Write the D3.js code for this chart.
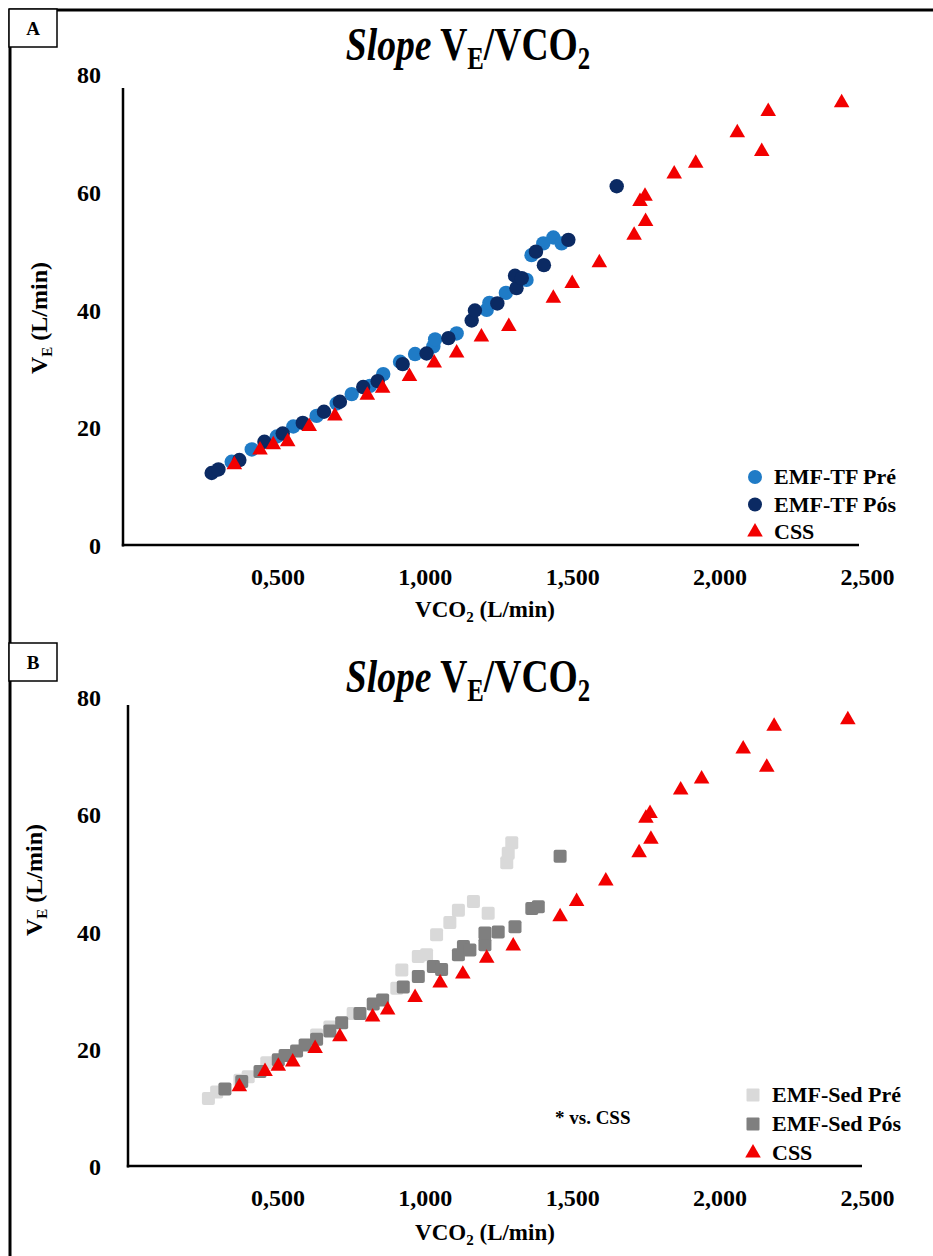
<!DOCTYPE html>
<html>
<head>
<meta charset="utf-8">
<script src="https://cdn.jsdelivr.net/npm/d3@7"></script>
<style>
  html, body { margin: 0; padding: 0; background: #fff; }
  svg { display: block; }
</style>
</head>
<body>
<svg id="chart" width="933" height="1256"></svg>
<script>
// ---------------- DATA ----------------
const titleMain = "Slope";
const xTicks = [0.5, 1.0, 1.5, 2.0, 2.5];
const yTicks = [0, 20, 40, 60, 80];
const panelLabels = ["A", "B"];
const legendA = ["EMF-TF Pré", "EMF-TF Pós", "CSS"];
const legendB = ["EMF-Sed Pré", "EMF-Sed Pós", "CSS"];
const annotationB = "vs. CSS";

// Panel A  [VCO2 (L/min), VE (L/min)]
const aPre = [[0.345,14.3],[0.413,16.4],[0.498,18.6],[0.554,20.3],[0.633,22.1],[0.701,24.2],[0.752,25.8],[0.814,27.2],[0.859,29.2],[0.916,31.3],[0.967,32.6],[1.029,33.9],[1.035,35.1],[1.108,36.1],[1.210,40.1],[1.219,41.3],[1.275,43.0],[1.345,45.2],[1.362,49.4],[1.402,51.4],[1.436,52.4],[1.464,51.4]];
const aPos = [[0.277,12.4],[0.300,13.0],[0.371,14.6],[0.456,17.7],[0.518,19.1],[0.586,20.9],[0.658,22.8],[0.712,24.5],[0.791,27.0],[0.840,28.0],[0.925,30.9],[1.006,32.7],[1.080,35.3],[1.159,38.3],[1.170,40.0],[1.246,41.2],[1.311,43.8],[1.306,45.9],[1.329,45.5],[1.377,50.0],[1.404,47.7],[1.487,52.0],[1.651,61.1]];
const aCss = [[0.354,13.8],[0.441,16.3],[0.486,17.2],[0.535,17.7],[0.608,20.3],[0.695,22.1],[0.805,25.6],[0.857,26.8],[0.948,28.8],[1.032,31.1],[1.108,32.8],[1.192,35.5],[1.285,37.3],[1.436,42.1],[1.500,44.6],[1.592,48.1],[1.710,52.8],[1.749,55.1],[1.730,58.5],[1.747,59.4],[1.846,63.2],[1.919,65.0],[2.060,70.2],[2.143,67.0],[2.165,73.8],[2.414,75.3]];

// Panel B
const bPre = [[0.266,11.7],[0.294,12.8],[0.373,14.8],[0.401,15.4],[0.464,17.8],[0.633,22.5],[0.678,23.9],[0.757,26.2],[0.905,30.5],[0.922,33.6],[0.978,35.9],[1.006,36.2],[1.040,39.6],[1.085,41.7],[1.114,43.8],[1.165,45.3],[1.215,43.3],[1.278,51.9],[1.283,53.5],[1.295,55.3]];
const bPos = [[0.322,13.3],[0.379,14.6],[0.441,16.3],[0.503,18.3],[0.526,19.0],[0.565,19.8],[0.594,20.8],[0.633,21.8],[0.678,23.2],[0.718,24.6],[0.780,26.2],[0.825,27.8],[0.857,28.5],[0.927,30.7],[0.978,32.5],[1.029,34.2],[1.057,33.7],[1.114,36.2],[1.131,37.6],[1.153,37.0],[1.204,37.9],[1.204,39.9],[1.249,40.1],[1.306,41.0],[1.363,44.1],[1.385,44.4],[1.459,53.0]];
const bCss = [[0.371,13.7],[0.458,16.3],[0.503,17.2],[0.552,17.9],[0.628,20.2],[0.712,22.2],[0.823,25.6],[0.874,26.8],[0.967,28.9],[1.052,31.4],[1.129,32.9],[1.210,35.6],[1.300,37.7],[1.459,42.7],[1.515,45.3],[1.614,48.8],[1.727,53.6],[1.767,55.9],[1.750,59.5],[1.764,60.3],[1.868,64.3],[1.939,66.2],[2.080,71.3],[2.160,68.2],[2.185,75.2],[2.435,76.3]];

// ---------------- STYLE ----------------
const SERIF = "'Liberation Serif', 'Times New Roman', serif";
const colLightBlue = "#1f7bc6", colNavy = "#0b2a63", colRed = "#f20000";
const colLightGrey = "#d9d9d9", colDarkGrey = "#7f7f7f";

const svg = d3.select("#chart");
const locale = d3.formatLocale({decimal: ",", thousands: ".", grouping: [3], currency: ["", ""]});
const fmtX = locale.format(".3f");

// outer frame (top + left)
svg.append("line").attr("x1", 9).attr("y1", 10).attr("x2", 933).attr("y2", 10).attr("stroke", "#000").attr("stroke-width", 3);
svg.append("line").attr("x1", 10).attr("y1", 9).attr("x2", 10).attr("y2", 1256).attr("stroke", "#000").attr("stroke-width", 3);

function drawPanel(cfg) {
  const g = svg.append("g");
  const x = d3.scaleLinear().domain([0, 2.5]).range(cfg.xRange);
  const y = d3.scaleLinear().domain([0, 80]).range(cfg.yRange);

  // panel label box
  g.append("rect").attr("x", cfg.box[0]).attr("y", cfg.box[1]).attr("width", 48).attr("height", 38)
    .attr("fill", "#fff").attr("stroke", "#000").attr("stroke-width", 1.5);
  g.append("text").attr("x", cfg.box[0] + 24).attr("y", cfg.box[1] + 26).attr("text-anchor", "middle")
    .attr("font-family", SERIF).attr("font-weight", "bold").attr("font-size", 19).text(cfg.label);

  // title
  const t = g.append("text").attr("transform", `translate(${cfg.titlePos[0]},${cfg.titlePos[1]}) scale(0.8,1)`)
    .attr("text-anchor", "middle").attr("font-family", SERIF).attr("font-weight", "bold").attr("font-size", 47);
  t.append("tspan").attr("font-style", "italic").text(titleMain);
  t.append("tspan").text(" V");
  t.append("tspan").attr("font-size", 31).attr("dy", 9).text("E");
  t.append("tspan").attr("dy", -9).text("/VCO");
  t.append("tspan").attr("font-size", 31).attr("dy", 9).text("2");

  // axes lines
  g.append("line").attr("x1", cfg.axisLeft).attr("x2", cfg.axisLeft).attr("y1", cfg.axisTop).attr("y2", cfg.axisBottom + 1.5)
    .attr("stroke", "#000").attr("stroke-width", 2.5);
  g.append("line").attr("x1", cfg.axisLeft - 1.2).attr("x2", cfg.axisRight).attr("y1", cfg.axisBottom).attr("y2", cfg.axisBottom)
    .attr("stroke", "#000").attr("stroke-width", 2.5);

  // x tick labels via axis
  const xa = g.append("g").attr("transform", `translate(0,${cfg.axisBottom})`)
    .call(d3.axisBottom(x).tickValues(xTicks).tickFormat(fmtX).tickSize(0).tickPadding(cfg.xPad));
  xa.select(".domain").remove();
  xa.selectAll("text").attr("font-family", SERIF).attr("font-weight", "bold").attr("font-size", 24).attr("fill", "#000");

  const ya = g.append("g").attr("transform", `translate(${cfg.axisLeft},0)`)
    .call(d3.axisLeft(y).tickValues(yTicks).tickSize(0).tickPadding(cfg.yPad));
  ya.select(".domain").remove();
  ya.selectAll("text").attr("font-family", SERIF).attr("font-weight", "bold").attr("font-size", 24).attr("fill", "#000");

  // axis titles
  const yt = g.append("text").attr("transform", `translate(${cfg.yTitle[0]},${cfg.yTitle[1]}) rotate(-90)`)
    .attr("text-anchor", "middle").attr("font-family", SERIF).attr("font-weight", "bold").attr("font-size", 24);
  yt.append("tspan").text("V");
  yt.append("tspan").attr("font-size", 15).attr("dy", 5).text("E");
  yt.append("tspan").attr("dy", -5).text(" (L/min)");

  const xt = g.append("text").attr("x", cfg.xTitle[0]).attr("y", cfg.xTitle[1])
    .attr("text-anchor", "middle").attr("font-family", SERIF).attr("font-weight", "bold").attr("font-size", 23);
  xt.append("tspan").text("VCO");
  xt.append("tspan").attr("font-size", 15).attr("dy", 5).text("2");
  xt.append("tspan").attr("dy", -5).text(" (L/min)");

  // markers
  const tri = d3.symbol().type(d3.symbolTriangle).size(105);
  function drawSeries(data, kind, color) {
    const s = g.append("g");
    if (kind === "circle") {
      s.selectAll("circle").data(data).join("circle")
        .attr("cx", d => x(d[0])).attr("cy", d => y(d[1])).attr("r", 7.2).attr("fill", color);
    } else if (kind === "square") {
      s.selectAll("rect").data(data).join("rect")
        .attr("x", d => x(d[0]) - 6.5).attr("y", d => y(d[1]) - 6.5).attr("width", 13).attr("height", 13)
        .attr("rx", 2).attr("fill", color);
    } else {
      s.selectAll("path").data(data).join("path")
        .attr("transform", d => `translate(${x(d[0])},${y(d[1])})`).attr("d", tri).attr("fill", color);
    }
  }
  cfg.series.forEach(se => drawSeries(se.data, se.kind, se.color));

  // legend
  const lg = g.append("g");
  cfg.series.forEach((se, i) => {
    const ly = cfg.legend[1] + i * cfg.legendStep;
    const lx = cfg.legend[0];
    if (se.kind === "circle") lg.append("circle").attr("cx", lx).attr("cy", ly).attr("r", 7).attr("fill", se.color);
    else if (se.kind === "square") lg.append("rect").attr("x", lx - 6.5).attr("y", ly - 6.5).attr("width", 13).attr("height", 13).attr("rx", 1).attr("fill", se.color);
    else lg.append("path").attr("transform", `translate(${lx},${ly})`).attr("d", tri).attr("fill", se.color);
    lg.append("text").attr("x", lx + 19).attr("y", ly + 7).attr("font-family", SERIF).attr("font-weight", "bold")
      .attr("font-size", 22).text(cfg.legendNames[i]);
  });
  return g;
}

drawPanel({
  label: panelLabels[0], box: [9, 9], titlePos: [468, 60],
  xRange: [130, 867], yRange: [546, 75],
  axisLeft: 123, axisRight: 859, axisTop: 88, axisBottom: 545,
  xPad: 23, yPad: 22, yTitle: [47, 318], xTitle: [485, 617],
  legend: [755, 477], legendStep: 27.5, legendNames: legendA,
  series: [
    {data: aPre, kind: "circle", color: colLightBlue},
    {data: aPos, kind: "circle", color: colNavy},
    {data: aCss, kind: "tri", color: colRed}
  ]
});

const gB = drawPanel({
  label: panelLabels[1], box: [9, 643], titlePos: [468, 692],
  xRange: [130, 867], yRange: [1167, 698],
  axisLeft: 128, axisRight: 862, axisTop: 705, axisBottom: 1166,
  xPad: 23, yPad: 27, yTitle: [42, 880], xTitle: [485, 1240],
  legend: [753, 1095], legendStep: 29, legendNames: legendB,
  series: [
    {data: bPre, kind: "square", color: colLightGrey},
    {data: bPos, kind: "square", color: colDarkGrey},
    {data: bCss, kind: "tri", color: colRed}
  ]
});

const ann = gB.append("text").attr("x", 555).attr("y", 1124).attr("font-family", SERIF).attr("font-size", 19);
ann.append("tspan").attr("font-weight", "bold").text("* ");
ann.append("tspan").attr("font-weight", "bold").text(annotationB);
</script>
</body>
</html>
